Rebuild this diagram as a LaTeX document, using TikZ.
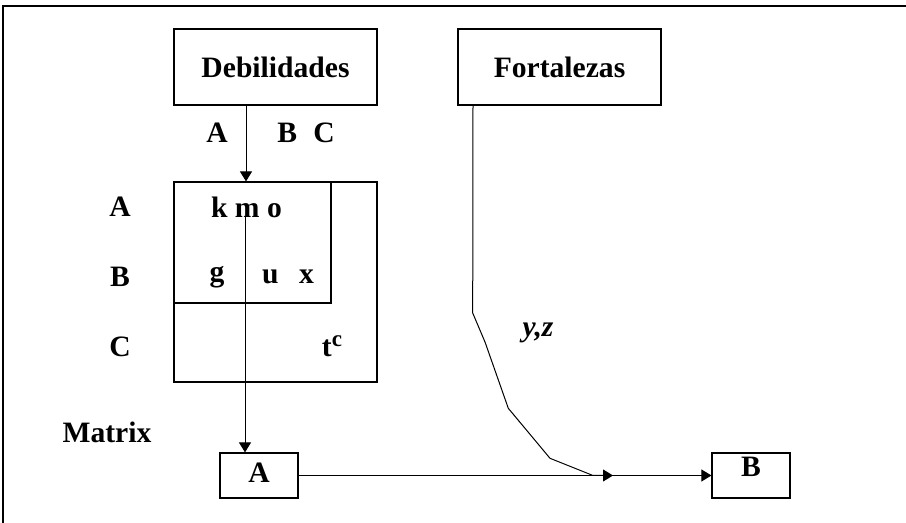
\documentclass[tikz,border=0pt]{standalone}
\usepackage{fontspec}
\setmainfont{Liberation Serif}
\usetikzlibrary{arrows.meta}
\begin{document}
\begin{tikzpicture}[x=0.5pt,y=-0.5pt,
  box/.style={draw, line width=0.6pt, inner sep=0pt},
  lbl/.style={font=\fontsize{14.8}{17}\selectfont\bfseries, inner sep=0pt},
  conn/.style={line width=0.5pt},
  tip/.style={-{Triangle[length=5pt,width=6pt]}}]
\useasboundingbox (0,0) rectangle (906,523);
\draw[line width=1pt] (3,523) -- (3,6) -- (906,6);
% boxes
\node[box, lbl, minimum width=101.5pt, minimum height=38pt] (deb) at (275.5,67) {Debilidades};
\node[box, lbl, minimum width=101.5pt, minimum height=38pt] (fort) at (559.5,67) {Fortalezas};
\node[box, minimum width=101.5pt, minimum height=100pt] (big) at (275.5,282) {};
\node[box, minimum width=78.5pt, minimum height=60.5pt] (inner) at (252.5,242.5) {};
\node[box, lbl, minimum width=39pt, minimum height=22.5pt] (Abox) at (259,475.5) {};
\node[lbl] (Atxt) at (259,473) {A};
\node[box, minimum width=39pt, minimum height=22.5pt] (Bbox) at (751,475.5) {};
\node[lbl] (Btxt) at (751,467) {B};
% labels
\node[lbl] (colA) at (217,133) {A};
\node[lbl] (colBC) at (306,133) {B\hspace{0.55em}C};
\node[lbl] (rowA) at (120,207) {A};
\node[lbl] (rowB) at (120,277) {B};
\node[lbl] (rowC) at (120,347) {C};
\node[lbl] (kmo) at (246.5,207) {k m o};
\node[lbl] (g) at (217,277) {g};
\node[lbl] (ux) at (288,277) {u\hspace{0.7em}x};
\node[lbl] (tc) at (332,346) {t\raisebox{0.75ex}{\fontsize{11.5}{13}\selectfont c}};
\node[lbl] (matrix) at (107,432) {Matrix};
\node[lbl, font=\fontsize{14.8}{17}\selectfont\bfseries\itshape] (yz) at (538,333) {y,z};
% connectors
\draw[conn, tip] ([xshift=-14.75pt]deb.south) -- ([xshift=-14.75pt]deb.south |- big.north);
\coordinate (m) at (245,217);
\draw[conn, tip] (m) -- (m |- Abox.north);
\draw[conn, tip] (Abox.east) -- (Bbox.west);
\coordinate (k1) at (472.7,313);
\coordinate (k2) at (485,342);
\coordinate (k3) at (508.3,408.3);
\coordinate (k4) at (550,458.3);
\coordinate (k5) at (593,475.5);
\coordinate (mid) at (613,475.5);
\draw[conn, tip] ([xshift=-43.25pt]fort.south) -- (k1) -- (k2) -- (k3) -- (k4) -- (k5) -- (mid);
\end{tikzpicture}
\end{document}
